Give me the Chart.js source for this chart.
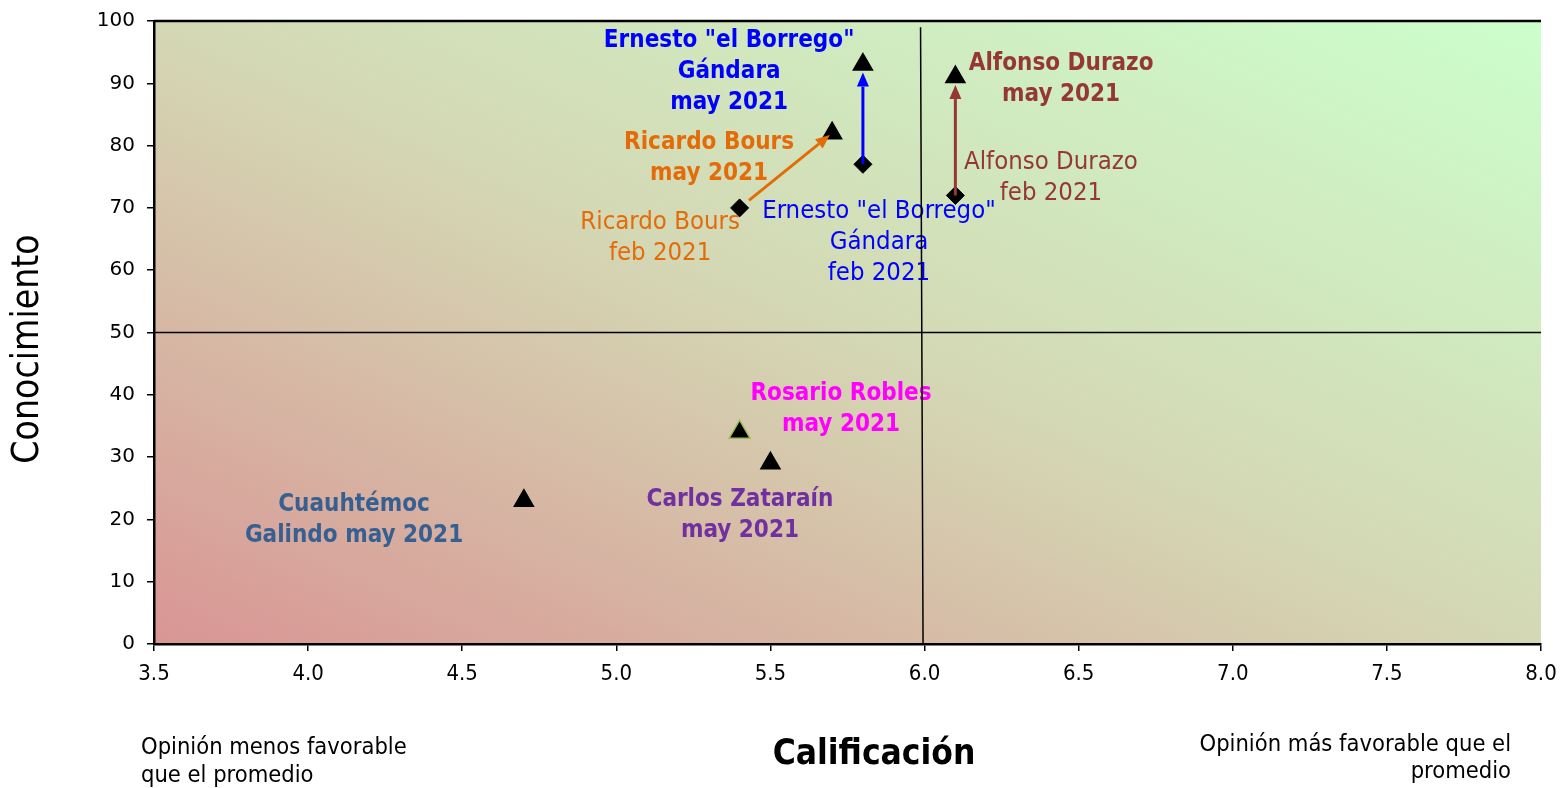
<!DOCTYPE html>
<html>
<head>
<meta charset="utf-8">
<script src="https://cdn.jsdelivr.net/npm/chart.js@4/dist/chart.umd.min.js"></script>
<style>
  html, body { margin: 0; padding: 0; background: #ffffff; }
  #wrap { width: 1562px; height: 788px; position: relative; }
</style>
</head>
<body>
<div id="wrap"><canvas id="c" width="1562" height="788"></canvas></div>
<script>
// ---- Data ----
const candidates = ['Ernesto "el Borrego" Gándara', 'Ricardo Bours', 'Alfonso Durazo', 'Rosario Robles', 'Carlos Zataraín', 'Cuauhtémoc Galindo'];
const febCalificacion = [5.8, 5.4, 6.1];
const febConocimiento = [77, 70, 72];
const mayCalificacion = [5.8, 5.7, 6.1, 5.4, 5.5, 4.7];
const mayConocimiento = [93, 82, 91, 34, 29, 23];
const xTickValues = [3.5, 4.0, 4.5, 5.0, 5.5, 6.0, 6.5, 7.0, 7.5, 8.0];
const yTickValues = [0, 10, 20, 30, 40, 50, 60, 70, 80, 90, 100];
const averageCalificacion = 6.0;
const averageConocimiento = 50;

// ---- Styling / annotations (not data) ----
const FONT = '"DejaVu Sans Condensed", "DejaVu Sans", sans-serif';
const arrowColors = ['#0000ff', '#e36c09', '#953735'];
const mayMarkerBorders = ['#000000', '#000000', '#000000', '#9bbb59', '#000000', '#000000'];
const mayMarkerRadius = [11, 11, 11, 12, 11, 11];
// label anchors in data units (first line centre), lines stacked downward
const labels = [
  { x: 5.366, y: 96.9, lines: ['Ernesto "el Borrego"', 'Gándara', 'may 2021'], color: '#0000ff', bold: true },
  { x: 5.301, y: 80.4, lines: ['Ricardo Bours', 'may 2021'], color: '#e36c09', bold: true },
  { x: 5.142, y: 67.6, lines: ['Ricardo Bours', 'feb 2021'], color: '#e36c09', bold: false },
  { x: 5.852, y: 69.5, lines: ['Ernesto "el Borrego"', 'Gándara', 'feb 2021'], color: '#0000ff', bold: false },
  { x: 6.443, y: 93.2, lines: ['Alfonso Durazo', 'may 2021'], color: '#953735', bold: true },
  { x: 6.410, y: 77.3, lines: ['Alfonso Durazo', 'feb 2021'], color: '#953735', bold: false },
  { x: 5.729, y: 40.1, lines: ['Rosario Robles', 'may 2021'], color: '#ff00ff', bold: true },
  { x: 5.401, y: 23.1, lines: ['Carlos Zataraín', 'may 2021'], color: '#7030a0', bold: true },
  { x: 4.149, y: 22.3, lines: ['Cuauhtémoc', 'Galindo may 2021'], color: '#376092', bold: true }
];

const febPoints = febCalificacion.map((v, i) => ({ x: v, y: febConocimiento[i] }));
const mayPoints = mayCalificacion.map((v, i) => ({ x: v, y: mayConocimiento[i] }));

const bgPlugin = {
  id: 'bg',
  beforeDraw(chart) {
    const { ctx, chartArea: a } = chart;
    const W = a.right - a.left, H = a.bottom - a.top;
    const cx = (a.left + a.right) / 2, cy = (a.top + a.bottom) / 2;
    const k = (W * H) / (W * W + H * H);
    const g = ctx.createLinearGradient(cx - k * H, cy + k * W, cx + k * H, cy - k * W);
    g.addColorStop(0, '#d99594');
    g.addColorStop(0.5, '#d4d8b4');
    g.addColorStop(1, '#ccffcc');
    ctx.save();
    ctx.fillStyle = g;
    ctx.fillRect(a.left, a.top, W, H);
    ctx.restore();
  },
  beforeDatasetsDraw(chart) {
    const { ctx, chartArea: a, scales: { x, y } } = chart;
    ctx.save();
    // labels
    ctx.textAlign = 'center';
    ctx.textBaseline = 'middle';
    labels.forEach(l => {
      ctx.font = l.bold ? 'bold 24px ' + FONT : '25.5px ' + FONT;
      ctx.fillStyle = l.color;
      const px = x.getPixelForValue(l.x), py = y.getPixelForValue(l.y);
      l.lines.forEach((t, i) => ctx.fillText(t, px, py + i * 31));
    });
    // quadrant lines
    ctx.strokeStyle = '#000000';
    ctx.lineWidth = 1.5;
    ctx.beginPath();
    const vx = x.getPixelForValue(averageCalificacion);
    ctx.moveTo(vx - 4, y.getPixelForValue(99));
    ctx.lineTo(vx - 1.5, a.bottom);
    const hy = y.getPixelForValue(averageConocimiento);
    ctx.moveTo(a.left, hy);
    ctx.lineTo(a.right, hy);
    ctx.stroke();
    // top border
    ctx.lineWidth = 2.5;
    ctx.beginPath();
    ctx.moveTo(a.left, a.top);
    ctx.lineTo(a.right, a.top);
    ctx.stroke();
    ctx.restore();
  },
  afterDatasetsDraw(chart) {
    const { ctx, scales: { x, y } } = chart;
    ctx.save();
    febPoints.forEach((p, i) => {
      const q = mayPoints[i];
      let x0 = x.getPixelForValue(p.x), y0 = y.getPixelForValue(p.y);
      let x1 = x.getPixelForValue(q.x), y1 = y.getPixelForValue(q.y);
      const dx = x1 - x0, dy = y1 - y0, len = Math.hypot(dx, dy);
      const ux = dx / len, uy = dy / len;
      const diag = Math.abs(ux) > 0.1;
      const startOff = diag ? 12 : 0;
      const endOff = diag ? 3 : 8;
      x0 += ux * startOff; y0 += uy * startOff;
      x1 -= ux * endOff; y1 -= uy * endOff;
      const head = 14, hw = 6;
      const bx = x1 - ux * head, by = y1 - uy * head;
      ctx.strokeStyle = arrowColors[i];
      ctx.fillStyle = arrowColors[i];
      ctx.lineWidth = 3;
      ctx.beginPath();
      ctx.moveTo(x0, y0);
      ctx.lineTo(bx, by);
      ctx.stroke();
      ctx.beginPath();
      ctx.moveTo(x1, y1);
      ctx.lineTo(bx - uy * hw, by + ux * hw);
      ctx.lineTo(bx + uy * hw, by - ux * hw);
      ctx.closePath();
      ctx.fill();
    });
    ctx.restore();
  },
  afterDraw(chart) {
    const { ctx } = chart;
    ctx.save();
    ctx.fillStyle = '#000000';
    // y title
    ctx.font = '37px ' + FONT;
    ctx.textAlign = 'center';
    ctx.textBaseline = 'middle';
    ctx.translate(28, 349);
    ctx.rotate(-Math.PI / 2);
    ctx.fillText('Conocimiento', 0, 0);
    ctx.setTransform(1, 0, 0, 1, 0, 0);
    // x title
    ctx.font = 'bold 35px ' + FONT;
    ctx.fillText('Calificación', 874, 755);
    // notes
    ctx.font = '23.5px ' + FONT;
    ctx.textAlign = 'left';
    ctx.fillText('Opinión menos favorable', 141, 748);
    ctx.fillText('que el promedio', 141, 776);
    ctx.textAlign = 'right';
    ctx.fillText('Opinión más favorable que el', 1511, 745);
    ctx.fillText('promedio', 1511, 772);
    ctx.restore();
  }
};

new Chart(document.getElementById('c'), {
  type: 'scatter',
  data: {
    datasets: [
      {
        label: 'feb 2021',
        data: febPoints,
        pointStyle: 'rectRot',
        pointRadius: 9,
        backgroundColor: '#000000',
        borderColor: '#000000',
        borderWidth: 1
      },
      {
        label: 'may 2021',
        data: mayPoints,
        pointStyle: 'triangle',
        pointRadius: mayMarkerRadius,
        backgroundColor: '#000000',
        borderColor: mayMarkerBorders,
        borderWidth: 1.5
      }
    ]
  },
  options: {
    responsive: false,
    animation: false,
    devicePixelRatio: 1,
    layout: { padding: { top: 21, right: 21, left: 0, bottom: 0 } },
    plugins: { legend: { display: false }, tooltip: { enabled: false } },
    scales: {
      x: {
        type: 'linear',
        min: xTickValues[0],
        max: xTickValues[xTickValues.length - 1],
        afterBuildTicks: s => { s.ticks = xTickValues.map(v => ({ value: v })); },
        afterFit: s => { s.height = 144; s.paddingLeft = 0; s.paddingRight = 0; },
        ticks: {
          callback: v => Number(v).toFixed(1),
          color: '#000000',
          font: { family: FONT, size: 22 },
          padding: 10,
          maxRotation: 0
        },
        grid: { drawOnChartArea: false, drawTicks: true, tickLength: 7, color: '#000000', lineWidth: 1.5 },
        border: { display: true, color: '#000000', width: 2.5 }
      },
      y: {
        min: yTickValues[0],
        max: yTickValues[yTickValues.length - 1],
        afterBuildTicks: s => { s.ticks = yTickValues.map(v => ({ value: v })); },
        afterFit: s => { s.width = 154; s.paddingTop = 0; s.paddingBottom = 0; },
        ticks: {
          color: '#000000',
          font: { family: '"DejaVu Sans", sans-serif', size: 20 },
          padding: 12
        },
        grid: { drawOnChartArea: false, drawTicks: true, tickLength: 7, color: '#000000', lineWidth: 1.5 },
        border: { display: true, color: '#000000', width: 2.5 }
      }
    }
  },
  plugins: [bgPlugin]
});
</script>
</body>
</html>
